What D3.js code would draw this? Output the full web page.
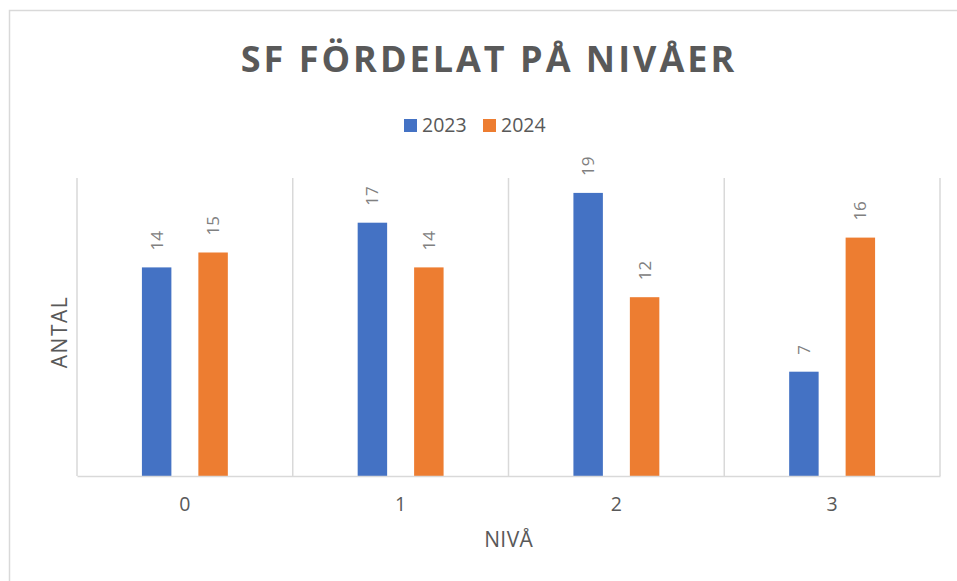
<!DOCTYPE html>
<html>
<head>
<meta charset="utf-8">
<script src="https://cdn.jsdelivr.net/npm/d3@7"></script>
<style>
  html, body { margin: 0; padding: 0; background: #fff; }
  svg { display: block; font-family: "Open Sans", "Noto Sans", sans-serif; }
</style>
</head>
<body>
<svg id="chart" width="957" height="581"></svg>
<script>
const title = "SF FÖRDELAT PÅ NIVÅER";
const categories = ["0", "1", "2", "3"];
const seriesNames = ["2023", "2024"];
const values2023 = [14, 17, 19, 7];
const values2024 = [15, 14, 12, 16];
const seriesColors = ["#4472C4", "#ED7D31"];
const xTitle = "NIVÅ";
const yTitle = "ANTAL";

const seriesValues = [values2023, values2024];
const svg = d3.select("#chart");

// chart border
svg.append("rect")
  .attr("x", 9.5).attr("y", 10.5)
  .attr("width", 960).attr("height", 600)
  .attr("fill", "none").attr("stroke", "#D9D9D9").attr("stroke-width", 1.5);

const plot = { left: 77, right: 940, top: 178, bottom: 476 };

const x = d3.scaleBand().domain(categories).range([plot.left, plot.right]).padding(0);
const xs = d3.scaleBand().domain(seriesNames).range([0, x.bandwidth()])
  .paddingInner(0.478).paddingOuter(1.15);
const y = d3.scaleLinear().domain([0, 20]).range([plot.bottom, plot.top]);

// vertical gridlines at category boundaries
const bounds = categories.map(c => x(c)).concat([plot.right]);
svg.append("g").selectAll("line").data(bounds).join("line")
  .attr("x1", d => d).attr("x2", d => d)
  .attr("y1", plot.top).attr("y2", plot.bottom)
  .attr("stroke", "#D9D9D9").attr("stroke-width", 1.5);

// bars
const barData = [];
categories.forEach((c, i) => {
  seriesNames.forEach((s, j) => {
    barData.push({ cat: c, series: s, value: seriesValues[j][i], color: seriesColors[j] });
  });
});

svg.append("g").selectAll("rect").data(barData).join("rect")
  .attr("x", d => x(d.cat) + xs(d.series))
  .attr("width", xs.bandwidth())
  .attr("y", d => y(d.value))
  .attr("height", d => y(0) - y(d.value))
  .attr("fill", d => d.color);

// data labels
svg.append("g").selectAll("text").data(barData).join("text")
  .attr("transform", d => `translate(${x(d.cat) + xs(d.series) + xs.bandwidth() / 2},${y(d.value) - 17}) rotate(-90)`)
  .attr("dy", "0.35em")
  .attr("text-anchor", "start")
  .attr("font-size", 17)
  .attr("fill", "#808080")
  .text(d => d.value);

// x axis
const xAxis = svg.append("g")
  .attr("transform", `translate(0,${plot.bottom})`)
  .call(d3.axisBottom(x).tickSize(0).tickPadding(0));
xAxis.select(".domain").attr("stroke", "#D9D9D9").attr("stroke-width", 1.5);
xAxis.selectAll("text")
  .attr("font-size", 19.5).attr("fill", "#595959")
  .attr("font-family", "\"Open Sans\", sans-serif")
  .attr("dy", null).attr("y", 35);

// axis titles
svg.append("text")
  .attr("x", (plot.left + plot.right) / 2 + 0.2).attr("y", 547)
  .attr("text-anchor", "middle").attr("font-size", 21).attr("fill", "#595959")
  .attr("letter-spacing", 0.4)
  .text(xTitle);
svg.append("text")
  .attr("transform", `translate(67,332) rotate(-90)`)
  .attr("text-anchor", "middle").attr("font-size", 21).attr("fill", "#595959")
  .attr("letter-spacing", 1.5)
  .text(yTitle);

// title
svg.append("text")
  .attr("x", 489).attr("y", 72)
  .attr("text-anchor", "middle")
  .attr("font-size", 36).attr("font-weight", "bold")
  .attr("letter-spacing", 3)
  .attr("fill", "#595959")
  .text(title);

// legend
const legendItems = [
  { name: seriesNames[0], color: seriesColors[0], x: 404 },
  { name: seriesNames[1], color: seriesColors[1], x: 483 }
];
const lg = svg.append("g").selectAll("g").data(legendItems).join("g")
  .attr("transform", d => `translate(${d.x},0)`);
lg.append("rect").attr("x", 0).attr("y", 119).attr("width", 13).attr("height", 13)
  .attr("fill", d => d.color);
lg.append("text").attr("x", 18).attr("y", 132)
  .attr("font-size", 19.5).attr("fill", "#595959")
  .text(d => d.name);
</script>
</body>
</html>
